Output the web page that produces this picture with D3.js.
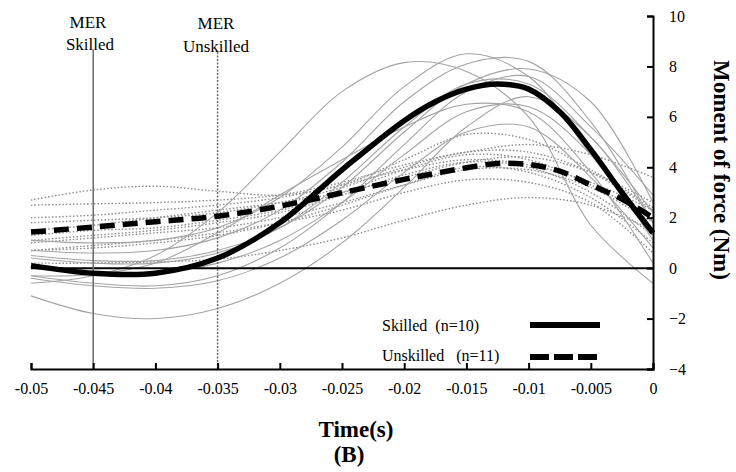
<!DOCTYPE html>
<html><head><meta charset="utf-8">
<script src="https://cdn.jsdelivr.net/npm/d3@7"></script>
<style>body{margin:0;background:#fff}svg{display:block}text{font-family:"Liberation Serif","Times New Roman",serif}</style>
</head><body>
<svg id="c" width="736" height="472"></svg>
<script>
const times = [-0.05,-0.045,-0.04,-0.035,-0.03,-0.025,-0.02,-0.015,-0.01,-0.005,0];
const xTicks = [-0.05,-0.045,-0.04,-0.035,-0.03,-0.025,-0.02,-0.015,-0.01,-0.005,0];
const yTicks = [-4,-2,0,2,4,6,8,10];
const skilledSubjects = [
  [-0.6,-0.3,0.5,2.2,4.6,7.0,8.15,7.8,6.0,1.7,-0.6],
  [-0.3,-0.25,0.2,1.4,2.9,4.3,5.6,6.5,6.2,3.8,0.2],
  [1.1,1.0,1.1,1.6,2.8,4.8,7.2,8.5,7.6,4.5,1.4],
  [0.7,0.6,0.7,1.2,2.3,4.2,6.6,8.1,8.2,5.8,1.8],
  [0.5,0.3,0.3,0.7,1.6,3.2,5.4,7.3,7.9,6.6,2.6],
  [0.4,0.2,0.2,0.6,1.6,3.4,5.6,7.3,7.3,5.2,2.2],
  [0.0,-0.2,-0.2,0.2,1.1,2.6,4.5,6.2,6.4,4.5,1.1],
  [-0.4,-0.7,-0.8,-0.5,0.4,1.9,3.8,5.4,5.6,3.6,0.8],
  [-1.1,-1.8,-2.0,-1.6,-0.6,1.0,3.2,5.6,6.8,5.2,1.8],
  [-0.3,-0.6,-0.7,-0.3,0.8,2.6,4.9,7.0,7.6,5.6,2.9]
];
const unskilledSubjects = [
  [2.7,3.1,3.25,3.05,2.9,3.3,4.3,5.3,5.1,3.9,2.4],
  [2.5,2.55,2.6,2.7,2.9,3.4,4.1,4.6,4.9,4.5,3.6],
  [1.8,1.9,2.0,2.2,2.6,3.2,4.0,4.6,4.6,3.8,2.3],
  [1.5,1.7,2.0,2.3,2.6,3.0,3.6,4.2,4.4,3.8,2.6],
  [1.1,1.3,1.5,1.8,2.2,2.9,3.7,4.2,4.0,3.0,1.3],
  [1.0,1.2,1.4,1.6,2.0,2.6,3.3,3.9,3.9,3.2,1.8],
  [0.7,0.8,1.0,1.3,1.8,2.5,3.3,4.0,3.8,2.8,1.0],
  [0.7,0.9,1.1,1.4,1.8,2.3,3.0,3.5,3.4,2.6,0.6],
  [0.2,0.2,0.25,0.35,0.7,1.2,1.9,2.5,2.8,2.5,1.5],
  [1.3,1.5,1.6,1.9,2.3,3.0,3.9,4.5,4.3,3.3,2.0],
  [2.0,2.1,2.3,2.5,2.8,3.3,3.9,4.3,4.1,3.4,2.3]
];
const meanTimes = [-0.05,-0.045,-0.04,-0.035,-0.03,-0.025,-0.02,-0.0175,-0.015,-0.0125,-0.01,-0.0075,-0.005,-0.0025,0];
const skilledMean =   [0.1,-0.2,-0.2,0.4,1.8,3.9,5.85,6.6,7.1,7.3,7.1,6.2,4.7,3.0,1.4];
const unskilledMean = [1.43,1.63,1.84,2.06,2.46,2.99,3.52,3.76,3.98,4.15,4.11,3.85,3.3,2.74,2.0];
const merTimes = {skilled:-0.045, unskilled:-0.035};

const svg = d3.select("#c");
const x = d3.scaleLinear().domain([-0.05,0]).range([31,653]);
const y = d3.scaleLinear().domain([-4,10]).range([369,16]);

const line = d3.line().x(d=>x(d[0])).y(d=>y(d[1])).curve(d3.curveCatmullRom.alpha(0.5));

unskilledSubjects.forEach(s=>{
  svg.append("path").attr("d",line(times.map((t,i)=>[t,s[i]])))
    .attr("fill","none").attr("stroke","#8c8c8c").attr("stroke-width",1.4).attr("stroke-dasharray","1.5,2");
});
skilledSubjects.forEach(s=>{
  svg.append("path").attr("d",line(times.map((t,i)=>[t,s[i]])))
    .attr("fill","none").attr("stroke","#a4a4a4").attr("stroke-width",1.1);
});

svg.append("line").attr("x1",x(-0.05)).attr("x2",x(0)).attr("y1",y(0)).attr("y2",y(0)).attr("stroke","#000").attr("stroke-width",2);

svg.append("line").attr("x1",x(merTimes.skilled)).attr("x2",x(merTimes.skilled)).attr("y1",50).attr("y2",y(-4)).attr("stroke","#6a6a6a").attr("stroke-width",1.5);
svg.append("line").attr("x1",x(merTimes.unskilled)).attr("x2",x(merTimes.unskilled)).attr("y1",52).attr("y2",y(-4)).attr("stroke","#6a6a6a").attr("stroke-width",1.5).attr("stroke-dasharray","2,1.5");

svg.append("path").attr("d",line(meanTimes.map((t,i)=>[t,unskilledMean[i]])))
  .attr("fill","none").attr("stroke","#000").attr("stroke-width",5.5).attr("stroke-dasharray","15,8");
svg.append("path").attr("d",line(meanTimes.map((t,i)=>[t,skilledMean[i]])))
  .attr("fill","none").attr("stroke","#000").attr("stroke-width",5.5);

const xAxis = svg.append("g").attr("transform",`translate(0,${y(-4)})`)
  .call(d3.axisBottom(x).tickValues(xTicks).tickSize(-6).tickPadding(14).tickFormat(d=>d===0?"0":String(+d.toFixed(3))));
xAxis.select(".domain").attr("stroke-width",2);
xAxis.selectAll(".tick line").attr("stroke-width",2);
xAxis.selectAll("text").attr("font-size",16).attr("fill","#000").attr("font-family","Liberation Serif");

const yAxis = svg.append("g").attr("transform",`translate(${x(0)},0)`)
  .call(d3.axisRight(y).tickValues(yTicks).tickSize(-6).tickPadding(16).tickFormat(d3.format("d")));
yAxis.select(".domain").attr("stroke-width",2);
yAxis.selectAll(".tick line").attr("stroke-width",2);
yAxis.selectAll("text").attr("font-size",16).attr("fill","#000").attr("font-family","Liberation Serif");

const lab = (t,tx,ty)=>svg.append("text").attr("x",tx).attr("y",ty).attr("text-anchor","middle").attr("font-size",17).text(t);
lab("MER",88,28); lab("Skilled",90,50);
lab("MER",216,29); lab("Unskilled",216,52);

svg.append("text").attr("x",356).attr("y",437).attr("text-anchor","middle").attr("font-size",23).attr("font-weight","bold").text("Time(s)");
svg.append("text").attr("x",349).attr("y",462).attr("text-anchor","middle").attr("font-size",23).attr("font-weight","bold").text("(B)");
svg.append("text").attr("transform","translate(714,170) rotate(90)").attr("text-anchor","middle").attr("font-size",23).attr("font-weight","bold").text("Moment of force (Nm)");

svg.append("text").attr("x",382).attr("y",331).attr("font-size",16).attr("xml:space","preserve").text("Skilled  (n=10)");
svg.append("text").attr("x",382).attr("y",361).attr("font-size",16).attr("xml:space","preserve").text("Unskilled   (n=11)");
svg.append("line").attr("x1",530).attr("x2",600).attr("y1",325).attr("y2",325).attr("stroke","#000").attr("stroke-width",6);
svg.append("line").attr("x1",530).attr("x2",600).attr("y1",357).attr("y2",357).attr("stroke","#000").attr("stroke-width",6).attr("stroke-dasharray","19,5");
</script>
</body></html>
